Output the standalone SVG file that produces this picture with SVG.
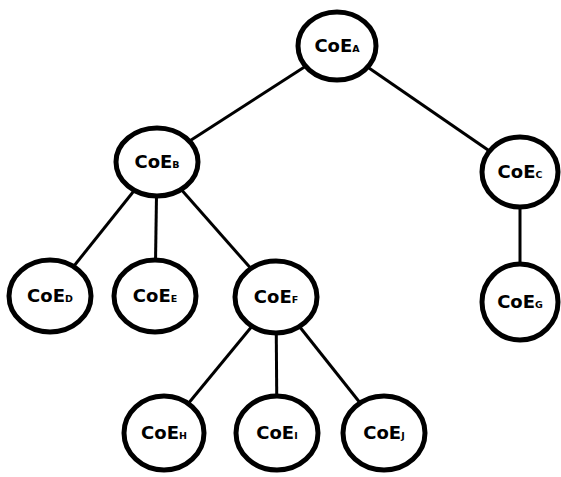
<svg xmlns="http://www.w3.org/2000/svg" width="561" height="477" viewBox="0 0 561 477">
<style>
.e{fill:#fff;stroke:#000;stroke-width:5}
.c line{stroke:#000;stroke-width:3}
text{font-family:"DejaVu Sans",sans-serif;font-weight:bold;font-size:18px;text-anchor:middle;fill:#000}
.s{font-size:9.5px}
</style>
<rect width="561" height="477" fill="#fff"/>
<g class="c" id="connectors">
<line x1="337" y1="46" x2="157" y2="162"/>
<line x1="337" y1="46" x2="520" y2="172"/>
<line x1="157" y1="162" x2="50" y2="296"/>
<line x1="157" y1="162" x2="155" y2="296"/>
<line x1="157" y1="162" x2="276" y2="297"/>
<line x1="276" y1="297" x2="164" y2="433"/>
<line x1="276" y1="297" x2="277" y2="433"/>
<line x1="276" y1="297" x2="384" y2="433"/>
<line x1="520" y1="172" x2="520" y2="302"/>
</g>
<g id="A"><ellipse class="e" cx="337" cy="46" rx="39" ry="34"/><text x="337" y="52">CoE<tspan class="s">A</tspan></text></g>
<g id="B"><ellipse class="e" cx="157" cy="162" rx="41" ry="34"/><text x="157" y="168">CoE<tspan class="s">B</tspan></text></g>
<g id="C"><ellipse class="e" cx="520" cy="172" rx="38" ry="35"/><text x="520" y="178">CoE<tspan class="s">C</tspan></text></g>
<g id="D"><ellipse class="e" cx="50" cy="296" rx="41" ry="36"/><text x="50" y="302">CoE<tspan class="s">D</tspan></text></g>
<g id="E"><ellipse class="e" cx="155" cy="296" rx="41" ry="36"/><text x="155" y="302">CoE<tspan class="s">E</tspan></text></g>
<g id="F"><ellipse class="e" cx="276" cy="297" rx="41" ry="36"/><text x="276" y="303">CoE<tspan class="s">F</tspan></text></g>
<g id="G"><ellipse class="e" cx="520" cy="302" rx="38" ry="38"/><text x="520" y="308">CoE<tspan class="s">G</tspan></text></g>
<g id="H"><ellipse class="e" cx="164" cy="433" rx="40" ry="37"/><text x="164" y="439">CoE<tspan class="s">H</tspan></text></g>
<g id="I"><ellipse class="e" cx="277" cy="433" rx="41" ry="37"/><text x="277" y="439">CoE<tspan class="s">I</tspan></text></g>
<g id="J"><ellipse class="e" cx="384" cy="433" rx="41" ry="37"/><text x="384" y="439">CoE<tspan class="s">J</tspan></text></g>
</svg>
